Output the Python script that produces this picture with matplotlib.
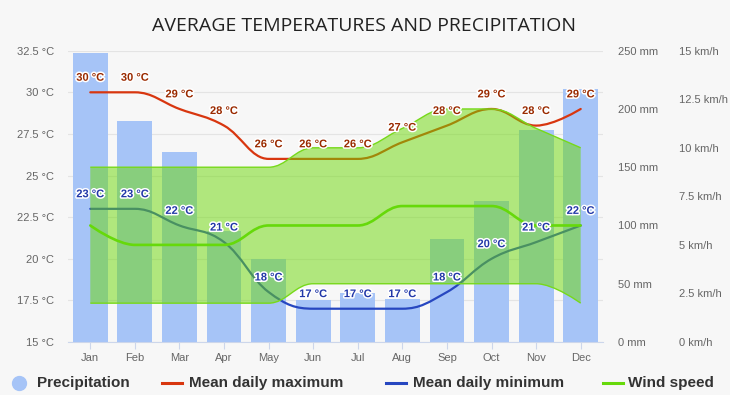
import numpy as np
import matplotlib
matplotlib.use('Agg')
import matplotlib.pyplot as plt
from matplotlib.path import Path
from matplotlib.patches import PathPatch, Circle
from matplotlib.lines import Line2D
import matplotlib.patheffects as pe

# ---------------- data ----------------
months = ['Jan', 'Feb', 'Mar', 'Apr', 'May', 'Jun', 'Jul', 'Aug', 'Sep', 'Oct', 'Nov', 'Dec']
precip_mm = [248, 190, 163, 95, 71, 36, 42, 37, 88, 121, 182, 217]
temp_max = [30, 30, 29, 28, 26, 26, 26, 27, 28, 29, 28, 29]
temp_min = [23, 23, 22, 21, 18, 17, 17, 17, 18, 20, 21, 22]
wind_kmh = [6, 5, 5, 5, 6, 6, 6, 7, 7, 7, 6, 6]
wind_low = [2, 2, 2, 2, 2, 3, 3, 3, 3, 3, 3, 2]
wind_high = [9, 9, 9, 9, 9, 10, 10, 11, 12, 12, 11, 10]

temp_ticks = [15, 17.5, 20, 22.5, 25, 27.5, 30, 32.5]
temp_tick_labels = ['15 °C', '17.5 °C', '20 °C', '22.5 °C', '25 °C', '27.5 °C', '30 °C', '32.5 °C']
precip_ticks = [0, 50, 100, 150, 200, 250]
precip_tick_labels = ['0 mm', '50 mm', '100 mm', '150 mm', '200 mm', '250 mm']
wind_ticks = [0, 2.5, 5, 7.5, 10, 12.5, 15]
wind_tick_labels = ['0 km/h', '2.5 km/h', '5 km/h', '7.5 km/h', '10 km/h', '12.5 km/h', '15 km/h']

title = 'AVERAGE TEMPERATURES AND PRECIPITATION'
legend_labels = ['Precipitation', 'Mean daily maximum', 'Mean daily minimum', 'Wind speed']

# ---------------- styles ----------------
BG = '#f7f7f7'
BAR_C = '#a6c4f7'
MAX_C = '#d8360f'
MIN_C = '#2747c0'
WIND_C = '#66d90a'
BAND_FC = (0.42, 0.85, 0.02, 0.50)
BAND_EC = '#77d91a'
MAXLBL_C = '#9a2a00'
MINLBL_C = '#2238a8'
TICK_C = '#666666'
W, H = 730, 395


def spline(xs, ys, smoothing=1.5):
    """Highcharts-style spline: returns bezier vertices & codes."""
    n = len(xs)
    left = [None] * n
    right = [None] * n
    d = smoothing + 1
    for i in range(1, n - 1):
        px, py = xs[i], ys[i]
        lx, ly = xs[i - 1], ys[i - 1]
        nx, ny = xs[i + 1], ys[i + 1]
        lcx = (smoothing * px + lx) / d
        lcy = (smoothing * py + ly) / d
        rcx = (smoothing * px + nx) / d
        rcy = (smoothing * py + ny) / d
        if rcx != lcx:
            corr = ((rcy - lcy) * (rcx - px)) / (rcx - lcx) + py - rcy
            lcy += corr
            rcy += corr
        if lcy > ly and lcy > py:
            lcy = max(ly, py); rcy = 2 * py - lcy
        elif lcy < ly and lcy < py:
            lcy = min(ly, py); rcy = 2 * py - lcy
        if rcy > ny and rcy > py:
            rcy = max(ny, py); lcy = 2 * py - rcy
        elif rcy < ny and rcy < py:
            rcy = min(ny, py); lcy = 2 * py - rcy
        left[i] = (lcx, lcy)
        right[i] = (rcx, rcy)
    verts = [(xs[0], ys[0])]
    codes = [Path.MOVETO]
    for i in range(1, n):
        c1 = right[i - 1] if right[i - 1] is not None else (xs[i - 1], ys[i - 1])
        c2 = left[i] if left[i] is not None else (xs[i], ys[i])
        verts += [c1, c2, (xs[i], ys[i])]
        codes += [Path.CURVE4] * 3
    return verts, codes


x = np.arange(len(months))

fig = plt.figure(figsize=(W / 100, H / 100), dpi=100, facecolor=BG)
L, R, T, B = 68, 603, 50.7, 342
rect = [L / W, 1 - B / H, (R - L) / W, (B - T) / H]

axT = fig.add_axes(rect)
axT.set_facecolor(BG)
axP = axT.twinx()
axW = axT.twinx()

# temperature axis (bottom layer: grid + labels)
axT.set_xlim(-0.5, len(months) - 0.5)
axT.set_ylim(temp_ticks[0], temp_ticks[-1])
axT.set_yticks(temp_ticks)
axT.set_yticklabels(temp_tick_labels)
axT.set_xticks(x)
axT.set_xticklabels(months)
axT.grid(axis='y', color='#e4e4e4', lw=0.8)
axT.set_axisbelow(True)
for s in ['top', 'left', 'right']:
    axT.spines[s].set_visible(False)
axT.spines['bottom'].set_color('#ccd6eb')
axT.tick_params(axis='y', length=0, pad=10, labelsize=8, labelcolor=TICK_C)
axT.tick_params(axis='x', length=5, color='#ccd6eb', pad=3, labelsize=8, labelcolor=TICK_C)
for lab in axT.get_xticklabels() + axT.get_yticklabels():
    lab.set_fontfamily(['Liberation Sans', 'DejaVu Sans'])

# precipitation axis
axP.set_ylim(precip_ticks[0], precip_ticks[-1])
axP.set_yticks(precip_ticks)
axP.set_yticklabels(precip_tick_labels)
axP.bar(x, precip_mm, width=0.78, color=BAR_C, zorder=2)
for s in axP.spines.values():
    s.set_visible(False)
axP.tick_params(axis='y', length=0, pad=10.8, labelsize=8, labelcolor=TICK_C)
for lab in axP.get_yticklabels():
    lab.set_fontfamily(['Liberation Sans', 'DejaVu Sans'])

# wind axis (top layer)
axW.set_ylim(wind_ticks[0], wind_ticks[-1])
axW.set_yticks(wind_ticks)
axW.set_yticklabels(wind_tick_labels)
for s in axW.spines.values():
    s.set_visible(False)
axW.spines['right'].set_position(('outward', (76 - 15) * 0.72))
axW.tick_params(axis='y', length=0, pad=10.8, labelsize=8, labelcolor=TICK_C)
for lab in axW.get_yticklabels():
    lab.set_fontfamily(['Liberation Sans', 'DejaVu Sans'])

# temperature lines (drawn in top axes with temperature transform)
for vals, col in [(temp_max, MAX_C), (temp_min, MIN_C)]:
    v, c = spline(list(x), vals)
    axW.add_patch(PathPatch(Path(v, c), fill=False, edgecolor=col, lw=1.6,
                            transform=axT.transData, zorder=2, capstyle='round'))

# wind range band
vt, ct = spline(list(x), wind_high)
vb, cb = spline(list(x), wind_low)
band_v = vt + [vb[-1]] + vb[::-1][1:] + [vt[0]]
band_c = ct + [Path.LINETO] + [Path.CURVE4] * (len(vb) - 1) + [Path.CLOSEPOLY]
axW.add_patch(PathPatch(Path(band_v, band_c), facecolor=BAND_FC, edgecolor='none', zorder=3))
axW.add_patch(PathPatch(Path(vt, ct), fill=False, edgecolor=BAND_EC, lw=1.0, zorder=3.1))
axW.add_patch(PathPatch(Path(vb, cb), fill=False, edgecolor=BAND_EC, lw=1.0, zorder=3.1))

# wind line
vw, cw = spline(list(x), wind_kmh)
axW.add_patch(PathPatch(Path(vw, cw), fill=False, edgecolor=WIND_C, lw=1.9, zorder=4,
                        capstyle='round'))

# data labels
stroke = [pe.withStroke(linewidth=2.2, foreground='white')]
for i in range(len(months)):
    axW.annotate(f'{temp_max[i]} °C', xy=(x[i], temp_max[i]), xycoords=axT.transData,
                 xytext=(0, 10.5), textcoords='offset points', ha='center', va='center',
                 fontsize=8, fontweight='bold', color=MAXLBL_C, zorder=6,
                 family=['Liberation Sans', 'DejaVu Sans'], path_effects=stroke)
    axW.annotate(f'{temp_min[i]} °C', xy=(x[i], temp_min[i]), xycoords=axT.transData,
                 xytext=(0, 10.5), textcoords='offset points', ha='center', va='center',
                 fontsize=8, fontweight='bold', color=MINLBL_C, zorder=6,
                 family=['Liberation Sans', 'DejaVu Sans'], path_effects=stroke)

# title
fig.text(364.5 / W, 1 - 26 / H, title, ha='center', va='center', fontsize=14,
         color='#222222', family=['Open Sans', 'DejaVu Sans'])

# legend (manual)
ly = 1 - 383 / H
fig.patches.append(Circle((19 / W, ly), radius=7 / W, transform=fig.transFigure,
                          facecolor=BAR_C, edgecolor='none'))
# keep circle round: use ellipse-free approach via marker
fig.patches.pop()
fig.lines.append(Line2D([19 / W], [ly], marker='o', markersize=10, color=BAR_C,
                        transform=fig.transFigure, linestyle='none'))
items = [(37, None, legend_labels[0]),
         (189, (162, 182, MAX_C), legend_labels[1]),
         (413, (386, 406, MIN_C), legend_labels[2]),
         (628, (603, 623, WIND_C), legend_labels[3])]
for tx, seg, lab in items:
    if seg is not None:
        fig.lines.append(Line2D([seg[0] / W, seg[1] / W], [ly, ly], color=seg[2], lw=2.2,
                                transform=fig.transFigure))
    fig.text(tx / W, ly, lab, ha='left', va='center', fontsize=11, fontweight='bold',
             color='#333333', family=['Liberation Sans', 'DejaVu Sans'])

fig.savefig('out.png', dpi=100, facecolor=BG)
